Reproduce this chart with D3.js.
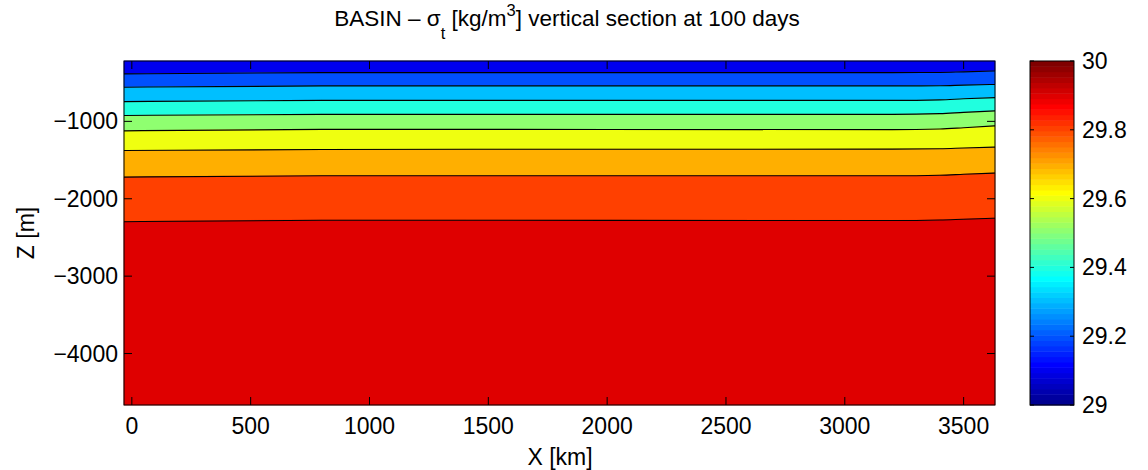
<!DOCTYPE html>
<html>
<head>
<meta charset="utf-8">
<script src="https://cdn.jsdelivr.net/npm/d3@7"></script>
<style>
  html, body { margin: 0; padding: 0; background: #fff; }
  svg text { font-family: "Liberation Sans", Arial, Helvetica, sans-serif; fill: #000; }
</style>
</head>
<body>
<svg id="chart" width="1148" height="470"></svg>
<script>
// stations along the section (km) where the isopycnal depths were read
const xKm = [-33, 800, 2000, 3200, 3400, 3500, 3632];

// contour levels (sigma_t) and the depth (m) of each isoline at the stations
const levels = [29.2, 29.3, 29.4, 29.5, 29.6, 29.7, 29.8, 29.9];
const depth292 = [-387, -370, -370, -370, -368, -360, -349];
const depth293 = [-559, -542, -542, -542, -540, -532, -523];
const depth294 = [-745, -729, -729, -729, -722, -708, -693];
const depth295 = [-925, -910, -910, -910, -900, -884, -865];
const depth296 = [-1123, -1103, -1105, -1107, -1098, -1082, -1058];
const depth297 = [-1377, -1364, -1360, -1359, -1354, -1345, -1333];
const depth298 = [-1720, -1703, -1703, -1703, -1696, -1684, -1668];
const depth299 = [-2297, -2277, -2279, -2281, -2274, -2264, -2251];
const isolines = [depth292, depth293, depth294, depth295, depth296, depth297, depth298, depth299];

// value used to colour each filled band, top to bottom
const bandValues = [29.1, 29.2, 29.3, 29.4, 29.5, 29.6, 29.7, 29.8, 29.9];

const xDomain = [-33, 3632];
const zDomain = [-4665, -220];
const cDomain = [29, 30];
const xTicks = [0, 500, 1000, 1500, 2000, 2500, 3000, 3500];
const zTicks = [-4000, -3000, -2000, -1000];
const cTicks = [29, 29.2, 29.4, 29.6, 29.8, 30];

// matlab jet(m)
function jet (m) {
  const n = Math.ceil(m / 4);
  const u = [];
  for (let i = 1; i <= n; i++) u.push(i / n);
  for (let i = 1; i < n; i++) u.push(1);
  for (let i = n; i >= 1; i--) u.push(i / n);
  const g0 = Math.ceil(n / 2) - (m % 4 === 1 ? 1 : 0);
  const map = d3.range(m).map(() => [0, 0, 0]);
  u.forEach((v, j) => {
    const gi = g0 + j + 1;
    const ri = gi + n;
    const bi = gi - n;
    if (ri >= 1 && ri <= m) map[ri - 1][0] = v;
    if (gi >= 1 && gi <= m) map[gi - 1][1] = v;
    if (bi >= 1 && bi <= m) map[bi - 1][2] = v;
  });
  return map.map(c => d3.rgb(c[0] * 255, c[1] * 255, c[2] * 255).formatHex());
}
const cmap = jet(64);
function colorOf (v) {
  const i = Math.floor((v - cDomain[0]) / (cDomain[1] - cDomain[0]) * cmap.length);
  return cmap[Math.max(0, Math.min(cmap.length - 1, i))];
}

const svg = d3.select('#chart');
const plot = { left: 124, right: 995, top: 61, bottom: 405 };
const cbar = { left: 1030, right: 1074 };
const fs = 23;

const x = d3.scaleLinear().domain(xDomain).range([plot.left, plot.right]);
const z = d3.scaleLinear().domain(zDomain).range([plot.bottom, plot.top]);
const c = d3.scaleLinear().domain(cDomain).range([plot.bottom, plot.top]);

// interfaces: top of domain, the isolines, bottom of domain
const bounds = [xKm.map(() => zDomain[1])].concat(isolines, [xKm.map(() => zDomain[0])]);

const g = svg.append('g');
bandValues.forEach((v, k) => {
  const upper = bounds[k];
  const lower = bounds[k + 1];
  const area = d3.area()
    .x((d, i) => x(xKm[i]))
    .y0((d, i) => z(lower[i]))
    .y1((d, i) => z(upper[i]))
    .curve(d3.curveMonotoneX);
  g.append('path')
    .attr('d', area(xKm))
    .attr('fill', colorOf(v))
    .attr('stroke', colorOf(v))
    .attr('stroke-width', 0.6);
});

const line = d3.line().curve(d3.curveMonotoneX);
isolines.forEach(depths => {
  g.append('path')
    .attr('d', line(xKm.map((d, i) => [x(d), z(depths[i])])))
    .attr('fill', 'none')
    .attr('stroke', '#000')
    .attr('stroke-width', 1.1);
});

// axes with inward ticks on all four sides
const tickLen = 8;
const axes = svg.append('g').attr('stroke', '#000').attr('stroke-width', 1);
xTicks.forEach(t => {
  axes.append('line').attr('x1', x(t)).attr('x2', x(t)).attr('y1', plot.bottom).attr('y2', plot.bottom - tickLen);
  axes.append('line').attr('x1', x(t)).attr('x2', x(t)).attr('y1', plot.top).attr('y2', plot.top + tickLen);
});
zTicks.forEach(t => {
  axes.append('line').attr('y1', z(t)).attr('y2', z(t)).attr('x1', plot.left).attr('x2', plot.left + tickLen);
  axes.append('line').attr('y1', z(t)).attr('y2', z(t)).attr('x1', plot.right).attr('x2', plot.right - tickLen);
});
axes.append('rect')
  .attr('x', plot.left).attr('y', plot.top)
  .attr('width', plot.right - plot.left).attr('height', plot.bottom - plot.top)
  .attr('fill', 'none');

const minus = d => (d < 0 ? '\u2212' + Math.abs(d) : String(d));
svg.append('g').selectAll('text').data(xTicks).join('text')
  .attr('x', d => x(d)).attr('y', 434)
  .attr('text-anchor', 'middle').attr('font-size', fs)
  .text(d => d);
svg.append('g').selectAll('text').data(zTicks).join('text')
  .attr('x', 118).attr('y', d => z(d) + 8)
  .attr('text-anchor', 'end').attr('font-size', fs)
  .text(minus);

svg.append('text').attr('x', 560).attr('y', 465)
  .attr('text-anchor', 'middle').attr('font-size', fs).text('X [km]');
svg.append('text').attr('transform', 'translate(34,233) rotate(-90)')
  .attr('text-anchor', 'middle').attr('font-size', fs).text('Z [m]');

// title with sigma_t and m^3
const title = svg.append('text').attr('x', 567).attr('y', 26)
  .attr('text-anchor', 'middle').attr('font-size', 22.5);
title.append('tspan').text('BASIN \u2013 \u03c3');
title.append('tspan').attr('dy', 13).attr('font-size', 16.5).text('t');
title.append('tspan').attr('dy', -13).text(' [kg/m');
title.append('tspan').attr('dy', -10).attr('font-size', 16.5).text('3');
title.append('tspan').attr('dy', 10).text('] vertical section at 100 days');

// colorbar
const cb = svg.append('g');
cmap.forEach((col, i) => {
  const v0 = cDomain[0] + i / cmap.length;
  const v1 = cDomain[0] + (i + 1) / cmap.length;
  cb.append('rect')
    .attr('x', cbar.left).attr('width', cbar.right - cbar.left)
    .attr('y', c(v1)).attr('height', c(v0) - c(v1) + 0.5)
    .attr('fill', col);
});
const cbTick = 4;
cTicks.forEach(t => {
  cb.append('line').attr('x1', cbar.left).attr('x2', cbar.left + cbTick)
    .attr('y1', c(t)).attr('y2', c(t)).attr('stroke', '#000');
  cb.append('line').attr('x1', cbar.right).attr('x2', cbar.right - cbTick)
    .attr('y1', c(t)).attr('y2', c(t)).attr('stroke', '#000');
});
cb.append('rect')
  .attr('x', cbar.left).attr('y', plot.top)
  .attr('width', cbar.right - cbar.left).attr('height', plot.bottom - plot.top)
  .attr('fill', 'none').attr('stroke', '#000');
cb.selectAll('text').data(cTicks).join('text')
  .attr('x', 1082).attr('y', d => c(d) + 8)
  .attr('font-size', fs)
  .text(d => d3.format('.10~g')(d));
</script>
</body>
</html>
